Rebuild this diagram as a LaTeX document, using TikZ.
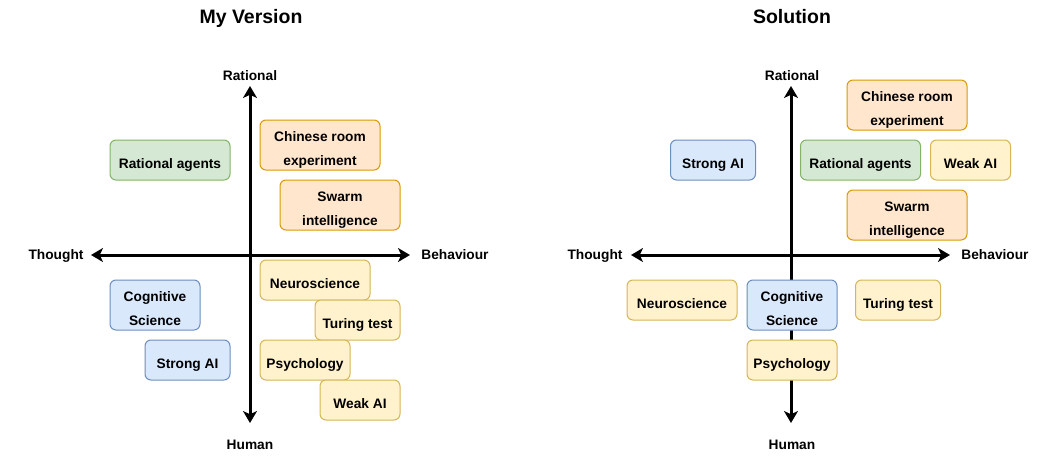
\documentclass[tikz,border=0pt]{standalone}
\usepackage{fontspec}
\setmainfont{Liberation Sans}
\usepackage{tikz}
\usetikzlibrary{arrows.meta}
\definecolor{blueF}{HTML}{DAE8FC}\definecolor{blueD}{HTML}{6C8EBF}
\definecolor{greenF}{HTML}{D5E8D4}\definecolor{greenD}{HTML}{82B366}
\definecolor{orangeF}{HTML}{FFE6CC}\definecolor{orangeD}{HTML}{D79B00}
\definecolor{yellowF}{HTML}{FFF2CC}\definecolor{yellowD}{HTML}{D6B656}
\tikzset{
	box/.style={draw, rounded corners=4.5pt, line width=0.75pt, inner sep=0pt, align=center,
		minimum height=30pt, font=\bfseries\fontsize{10.3}{18}\selectfont,
		execute at begin node={\rule{0pt}{15.5pt}}, execute at end node={\rule[-2.5pt]{0pt}{2.5pt}}},
	tall/.style={minimum height=37.5pt, execute at begin node={\rule{0pt}{33.5pt}}},
	bluebox/.style={box, fill=blueF, draw=blueD},
	greenbox/.style={box, fill=greenF, draw=greenD},
	orangebox/.style={box, fill=orangeF, draw=orangeD},
	yellowbox/.style={box, fill=yellowF, draw=yellowD},
	axis/.style={line width=2.25pt, arrows={Stealth[length=9pt,width=10.5pt,inset=2.5pt]-Stealth[length=9pt,width=10.5pt,inset=2.5pt]}},
	axislabel/.style={font=\bfseries\fontsize{10.3}{12}\selectfont, inner sep=0pt, text height=7.4pt, text depth=0pt},
	heading/.style={font=\bfseries\fontsize{14.6}{16}\selectfont, inner sep=0pt, text height=10.5pt, text depth=0pt}
}

\begin{document}
\begin{tikzpicture}[x=0.75pt, y=-0.75pt]
		%%%%% START %%%%%
		\useasboundingbox (0,0) rectangle (1051,461);
		
		\node[heading] (titleL) at (251, 16) {My Version};
		\node[heading] (titleR) at (792, 16) {Solution};
		
		% left axes
		\coordinate (topL) at (250, 86);
		\coordinate (botL) at (250, 423);
		\coordinate (leftL) at (91, 255);
		\coordinate (rightL) at (410, 255);
		\draw[axis] (botL) -- (topL);
		\draw[axis] (leftL) -- (rightL);
		\node[axislabel] (ratlabL) at (250, 76) {Rational};
		\node[axislabel] (humlabL) at (250, 445) {Human};
		\node[axislabel] (tholabL) at (56, 255) {Thought};
		\node[axislabel] (behlabL) at (455, 255) {Behaviour};
		
		% right axes
		\coordinate (topR) at (791, 86);
		\coordinate (botR) at (791, 423);
		\coordinate (leftR) at (631, 255);
		\coordinate (rightR) at (950, 255);
		\draw[axis] (botR) -- (topR);
		\draw[axis] (leftR) -- (rightR);
		\node[axislabel] (ratlabR) at (792, 76) {Rational};
		\node[axislabel] (humlabR) at (792, 445) {Human};
		\node[axislabel] (tholabR) at (595, 255) {Thought};
		\node[axislabel] (behlabR) at (995, 255) {Behaviour};
		
		% left boxes
		\node[orangebox, tall, minimum width=90pt] (chinL) at (320, 145) {Chinese room\\experiment};
		\node[greenbox, minimum width=90pt] (ratL) at (170, 160) {Rational agents};
		\node[orangebox, tall, minimum width=90pt] (swarmL) at (340, 205) {Swarm\\intelligence};
		\node[yellowbox, minimum width=82.5pt] (neuroL) at (315, 280) {Neuroscience};
		\node[bluebox, tall, minimum width=67.5pt] (cogL) at (155, 305) {Cognitive\\Science};
		\node[yellowbox, minimum width=63.75pt] (turL) at (357.5, 320) {Turing test};
		\node[bluebox, minimum width=63.75pt] (strL) at (187.5, 360) {Strong AI};
		\node[yellowbox, minimum width=67.5pt] (psyL) at (305, 360) {Psychology};
		\node[yellowbox, minimum width=60pt] (weakL) at (360, 400) {Weak AI};
		
		% right boxes
		\node[orangebox, tall, minimum width=90pt] (chinR) at (907, 105) {Chinese room\\experiment};
		\node[bluebox, minimum width=63.75pt] (strR) at (713, 160) {Strong AI};
		\node[greenbox, minimum width=90pt] (ratR) at (860.5, 160) {Rational agents};
		\node[yellowbox, minimum width=60pt] (weakR) at (970.5, 160) {Weak AI};
		\node[orangebox, tall, minimum width=90pt] (swarmR) at (907, 215) {Swarm\\intelligence};
		\node[yellowbox, minimum width=82.5pt] (neuroR) at (682, 300) {Neuroscience};
		\node[bluebox, tall, minimum width=67.5pt] (cogR) at (792, 305) {Cognitive\\Science};
		\node[yellowbox, minimum width=63.75pt] (turR) at (898, 300) {Turing test};
		\node[yellowbox, minimum width=67.5pt] (psyR) at (792, 360) {Psychology};
		
		%%%%% END %%%%%
	\end{tikzpicture}
\end{document}
